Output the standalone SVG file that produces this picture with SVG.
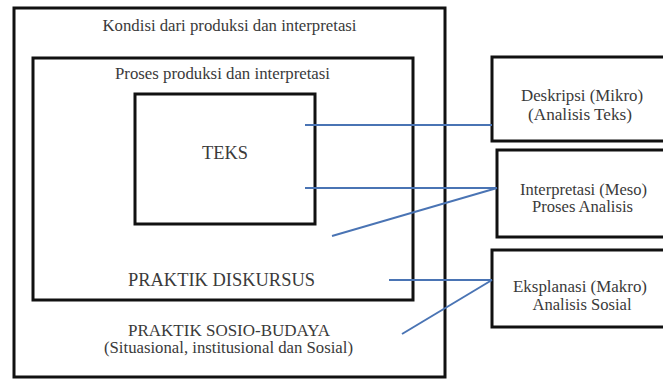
<svg xmlns="http://www.w3.org/2000/svg" width="663" height="381" viewBox="0 0 663 381">
<style>
.box{fill:none;stroke:#111;stroke-width:3}
.t{fill:#3a3a3a;text-anchor:middle;font-family:"Liberation Serif","DejaVu Serif",serif}
.s{font-size:16px}
.b{font-size:18.5px}
.m{font-size:17px}
.c{stroke:#4a74b4;stroke-width:2;fill:none}
</style>
<rect width="663" height="381" fill="#fff"/>
<g id="kondisi">
<rect class="box" x="14" y="8" width="431" height="369"/>
<text class="t s" x="229.5" y="31" textLength="254" lengthAdjust="spacingAndGlyphs">Kondisi dari produksi dan interpretasi</text>
<text class="t m" x="229" y="336" textLength="202" lengthAdjust="spacingAndGlyphs">PRAKTIK SOSIO-BUDAYA</text>
<text class="t s" x="228.5" y="353" textLength="249" lengthAdjust="spacingAndGlyphs">(Situasional, institusional dan Sosial)</text>
</g>
<g id="proses">
<rect class="box" x="33" y="58" width="380" height="242"/>
<text class="t s" x="222.5" y="79" textLength="215" lengthAdjust="spacingAndGlyphs">Proses produksi dan interpretasi</text>
<text class="t b" x="221.5" y="286" textLength="187" lengthAdjust="spacingAndGlyphs">PRAKTIK DISKURSUS</text>
</g>
<g id="teks">
<rect class="box" x="135" y="94" width="180" height="130"/>
<text class="t b" x="225" y="159" textLength="46" lengthAdjust="spacingAndGlyphs">TEKS</text>
</g>
<g id="deskripsi">
<rect class="box" x="492" y="57" width="180" height="84"/>
<text class="t s" x="582" y="101" textLength="122" lengthAdjust="spacingAndGlyphs">Deskripsi (Mikro)</text>
<text class="t s" x="580" y="120" textLength="104" lengthAdjust="spacingAndGlyphs">(Analisis Teks)</text>
</g>
<g id="interpretasi">
<rect class="box" x="497" y="150" width="180" height="87"/>
<text class="t s" x="583.5" y="195" textLength="127" lengthAdjust="spacingAndGlyphs">Interpretasi (Meso)</text>
<text class="t s" x="582.5" y="212" textLength="101" lengthAdjust="spacingAndGlyphs">Proses Analisis</text>
</g>
<g id="eksplanasi">
<rect class="box" x="492" y="250" width="180" height="77"/>
<text class="t s" x="580" y="292" textLength="134" lengthAdjust="spacingAndGlyphs">Eksplanasi  (Makro)</text>
<text class="t s" x="582" y="310" textLength="99" lengthAdjust="spacingAndGlyphs">Analisis Sosial</text>
</g>
<g id="connectors">
<line class="c" x1="305" y1="125" x2="492" y2="125"/>
<line class="c" x1="305" y1="188" x2="497" y2="188"/>
<line class="c" x1="332" y1="236" x2="497" y2="188"/>
<line class="c" x1="389" y1="280" x2="492" y2="280"/>
<line class="c" x1="402" y1="334" x2="492" y2="280"/>
</g>
</svg>
